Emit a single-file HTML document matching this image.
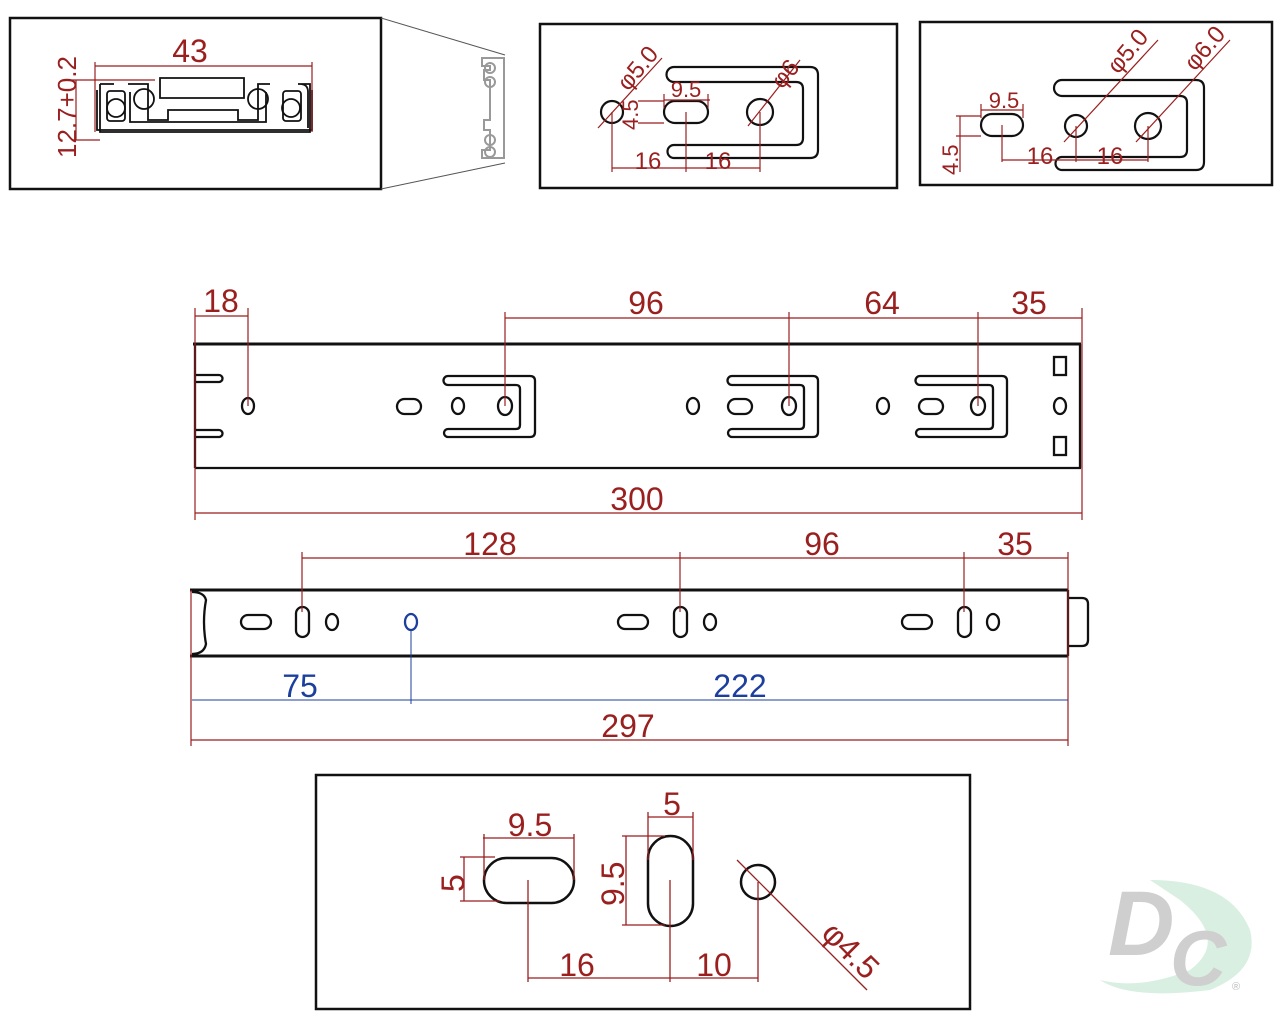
<!DOCTYPE html>
<html><head><meta charset="utf-8"><style>
html,body{margin:0;padding:0;background:#fff;}
svg{display:block;}
text{font-family:"Liberation Sans",sans-serif;fill:#9a1f1f;}
</style></head><body>
<svg width="1280" height="1024" viewBox="0 0 1280 1024" xmlns="http://www.w3.org/2000/svg">
<g fill="none" stroke="#111" stroke-width="2.5">
<rect x="10" y="18" width="371" height="171"/>
<rect x="540" y="24" width="357" height="164"/>
<rect x="920" y="22" width="352" height="163"/>
<rect x="316" y="775" width="654" height="234"/>
</g>
<!-- panel 1 -->
<g fill="none" stroke="#555" stroke-width="1">
<line x1="381" y1="18" x2="505" y2="55"/><line x1="381" y1="189" x2="505" y2="163"/>
</g>
<g fill="none" stroke="#999" stroke-width="2">
<path d="M482 58 h22 v100 h-22 v-8 h8 v-20 h-6 v-10 h6 v-40 h-6 v-10 h6 v-4 h-8 z"/>
<circle cx="490" cy="68" r="5"/><circle cx="490" cy="82" r="5"/><circle cx="490" cy="140" r="5"/><circle cx="490" cy="152" r="5"/>
</g>
<g fill="none" stroke="#111" stroke-width="1.8">
<path d="M100 84 h14 M100 84 v48 h210 v-48 h-12 M300 84 q8 0 8 8 v36"/>
<path d="M97 90 v40 h215 v-40"/>
<rect x="107" y="91" width="18" height="30" rx="3"/><rect x="283" y="91" width="18" height="30" rx="3"/>
<circle cx="116" cy="108" r="9"/><circle cx="291" cy="108" r="9"/>
<circle cx="144" cy="99" r="10"/><circle cx="258" cy="99" r="10"/>
<path d="M128 84 h20 v36 h20 v-10 h70 v10 h20 v-36 h12 M130 92 v30 h136 v-30"/>
<path d="M160 78 h84 v20 h-84 z"/>
</g>
<g stroke="#9a1f1f" stroke-width="1.2" fill="none">
<line x1="95" y1="66" x2="312" y2="66"/><line x1="95" y1="62" x2="95" y2="132"/><line x1="312" y1="62" x2="312" y2="132"/>
<line x1="72" y1="80" x2="155" y2="80"/><line x1="72" y1="140" x2="100" y2="140"/><line x1="76" y1="80" x2="76" y2="140"/>
</g>
<text x="190" y="62" font-size="32" text-anchor="middle">43</text>
<text transform="translate(76,158) rotate(-90)" font-size="26">12.7+0.2</text>
<!-- panel 2 -->
<g fill="none" stroke="#111" stroke-width="2.2">
<path d="M674 67 H810 q8 0 8 8 V150 q0 8 -8 8 H674 a6.5 6.5 0 0 1 0 -13 H796 q7 0 7 -7 V89 q0 -7 -7 -7 H674 a7.5 7.5 0 0 1 0 -15 z"/>
<circle cx="612" cy="112" r="11"/><rect x="664" y="101" width="44" height="22" rx="11"/><circle cx="760" cy="112" r="13"/>
</g>
<g stroke="#9a1f1f" stroke-width="1.2" fill="none">
<line x1="598" y1="128" x2="662" y2="58"/><line x1="748" y1="126" x2="800" y2="60"/>
<line x1="612" y1="112" x2="612" y2="172"/><line x1="686" y1="112" x2="686" y2="172"/><line x1="760" y1="112" x2="760" y2="172"/>
<line x1="612" y1="168" x2="760" y2="168"/>
<line x1="664" y1="100" x2="710" y2="100"/><line x1="664" y1="94" x2="664" y2="108"/><line x1="708" y1="94" x2="708" y2="108"/>
<line x1="638" y1="101" x2="664" y2="101"/><line x1="638" y1="123" x2="664" y2="123"/>
</g>
<text x="648" y="169" font-size="24" text-anchor="middle">16</text>
<text x="718" y="169" font-size="24" text-anchor="middle">16</text>
<text x="686" y="97" font-size="22" text-anchor="middle">9.5</text>
<text transform="translate(638,130) rotate(-90)" font-size="22">4.5</text>
<text transform="translate(628,92) rotate(-50)" font-size="24">φ5.0</text>
<text transform="translate(782,90) rotate(-50)" font-size="24">φ6</text>
<!-- panel 3 -->
<g fill="none" stroke="#111" stroke-width="2.2">
<path d="M1062 80 H1196 q8 0 8 8 V162 q0 8 -8 8 H1062 a6.5 6.5 0 0 1 0 -13 H1180 q7 0 7 -7 V103 q0 -7 -7 -7 H1062 a8 8 0 0 1 0 -16 z"/>
<rect x="981" y="114" width="42" height="22" rx="11"/><circle cx="1076" cy="126" r="11"/><circle cx="1148" cy="126" r="13"/>
</g>
<g stroke="#9a1f1f" stroke-width="1.2" fill="none">
<line x1="1064" y1="142" x2="1158" y2="40"/><line x1="1136" y1="142" x2="1230" y2="40"/>
<line x1="1002" y1="125" x2="1002" y2="162"/><line x1="1076" y1="126" x2="1076" y2="162"/><line x1="1148" y1="126" x2="1148" y2="162"/>
<line x1="1002" y1="160" x2="1148" y2="160"/>
<line x1="981" y1="110" x2="1023" y2="110"/><line x1="981" y1="104" x2="981" y2="118"/><line x1="1023" y1="104" x2="1023" y2="118"/>
<line x1="956" y1="116" x2="981" y2="116"/><line x1="956" y1="136" x2="981" y2="136"/><line x1="960" y1="116" x2="960" y2="172"/>
</g>
<text x="1004" y="108" font-size="22" text-anchor="middle">9.5</text>
<text x="1040" y="164" font-size="24" text-anchor="middle">16</text>
<text x="1110" y="164" font-size="24" text-anchor="middle">16</text>
<text transform="translate(958,175) rotate(-90)" font-size="22">4.5</text>
<text transform="translate(1118,75) rotate(-50)" font-size="24">φ5.0</text>
<text transform="translate(1195,72) rotate(-50)" font-size="24">φ6.0</text>
<!-- rail 1 -->
<g fill="none" stroke="#111" stroke-width="2.3">
<line x1="193" y1="344" x2="1081" y2="344" stroke-width="3"/>
<line x1="195" y1="468" x2="1081" y2="468"/>
<line x1="195" y1="344" x2="195" y2="468"/><line x1="1080" y1="344" x2="1080" y2="468"/>
<path d="M195 375 h24 a3.5 3.5 0 0 1 0 7 h-24 M195 430 h24 a3.5 3.5 0 0 1 0 7 h-24"/>
<ellipse cx="248" cy="406" rx="6" ry="8"/>
<rect x="397" y="399" width="24" height="15" rx="7.5"/><ellipse cx="458" cy="406" rx="6" ry="8"/><ellipse cx="505" cy="406" rx="7" ry="9"/>
<path d="M448 376 H530 q5 0 5 5 V432 q0 5 -5 5 H448 a4 4 0 0 1 0 -8 H516 q4 0 4 -4 V389 q0 -4 -4 -4 H448 a4.5 4.5 0 0 1 0 -9 z"/>
<ellipse cx="693" cy="406" rx="6" ry="8"/><rect x="728" y="399" width="24" height="15" rx="7.5"/><ellipse cx="789" cy="406" rx="7" ry="9"/>
<path d="M732 376 H813 q5 0 5 5 V432 q0 5 -5 5 H732 a4 4 0 0 1 0 -8 H800 q4 0 4 -4 V389 q0 -4 -4 -4 H732 a4.5 4.5 0 0 1 0 -9 z"/>
<ellipse cx="883" cy="406" rx="6" ry="8"/><rect x="919" y="399" width="24" height="15" rx="7.5"/><ellipse cx="978" cy="406" rx="7" ry="9"/>
<path d="M920 376 H1002 q5 0 5 5 V432 q0 5 -5 5 H920 a4 4 0 0 1 0 -8 H989 q4 0 4 -4 V389 q0 -4 -4 -4 H920 a4.5 4.5 0 0 1 0 -9 z"/>
<rect x="1054" y="357" width="12" height="18"/><ellipse cx="1060" cy="406" rx="6" ry="8"/><rect x="1054" y="437" width="12" height="18"/>
</g>
<g stroke="#9a1f1f" stroke-width="1.2" fill="none">
<line x1="195" y1="308" x2="195" y2="520"/><line x1="1082" y1="308" x2="1082" y2="520"/>
<line x1="248" y1="308" x2="248" y2="406"/><line x1="505" y1="312" x2="505" y2="406"/><line x1="789" y1="312" x2="789" y2="406"/><line x1="978" y1="312" x2="978" y2="406"/>
<line x1="195" y1="316" x2="248" y2="316"/><line x1="505" y1="318" x2="1082" y2="318"/>
<line x1="195" y1="513" x2="1082" y2="513"/>
</g>
<text x="221" y="312" font-size="32" text-anchor="middle">18</text>
<text x="646" y="314" font-size="32" text-anchor="middle">96</text>
<text x="882" y="314" font-size="32" text-anchor="middle">64</text>
<text x="1029" y="314" font-size="32" text-anchor="middle">35</text>
<text x="637" y="510" font-size="32" text-anchor="middle">300</text>
<!-- rail 2 -->
<g fill="none" stroke="#111" stroke-width="2.3">
<line x1="190" y1="590" x2="1068" y2="590" stroke-width="3"/>
<line x1="190" y1="656" x2="1068" y2="656" stroke-width="3"/>
<path d="M192 592 q12 0 14 8 q-4 22 0 44 q-2 10 -14 10"/>
<line x1="1068" y1="590" x2="1068" y2="656"/>
<path d="M1068 598 h14 q6 0 6 6 v36 q0 6 -6 6 h-14"/>
<rect x="241" y="615" width="30" height="14" rx="7"/><rect x="296" y="607" width="13" height="30" rx="6.5"/><ellipse cx="332" cy="622" rx="6" ry="8"/>
<rect x="618" y="615" width="30" height="14" rx="7"/><rect x="674" y="607" width="13" height="30" rx="6.5"/><ellipse cx="710" cy="622" rx="6" ry="8"/>
<rect x="902" y="615" width="30" height="14" rx="7"/><rect x="958" y="607" width="13" height="30" rx="6.5"/><ellipse cx="993" cy="622" rx="6" ry="8"/>
</g>
<ellipse cx="411" cy="622" rx="6" ry="8" fill="none" stroke="#1c3f9e" stroke-width="2.3"/>
<g stroke="#9a1f1f" stroke-width="1.2" fill="none">
<line x1="302" y1="558" x2="1068" y2="558"/>
<line x1="302" y1="552" x2="302" y2="612"/><line x1="680" y1="552" x2="680" y2="612"/><line x1="964" y1="552" x2="964" y2="612"/><line x1="1068" y1="552" x2="1068" y2="746"/>
<line x1="191" y1="590" x2="191" y2="746"/>
<line x1="191" y1="740" x2="1068" y2="740"/>
</g>
<g stroke="#1c3f9e" stroke-width="1" fill="none">
<line x1="192" y1="700" x2="1068" y2="700"/><line x1="411" y1="630" x2="411" y2="704"/>
</g>
<text x="490" y="555" font-size="32" text-anchor="middle">128</text>
<text x="822" y="555" font-size="32" text-anchor="middle">96</text>
<text x="1015" y="555" font-size="32" text-anchor="middle">35</text>
<text x="300" y="697" font-size="32" text-anchor="middle" style="fill:#1c3f9e">75</text>
<text x="740" y="697" font-size="32" text-anchor="middle" style="fill:#1c3f9e">222</text>
<text x="628" y="737" font-size="32" text-anchor="middle">297</text>
<!-- detail box -->
<g fill="none" stroke="#111" stroke-width="2.5">
<rect x="484" y="858" width="90" height="45" rx="22.5"/>
<rect x="648" y="836" width="45" height="90" rx="22.5"/>
<circle cx="758" cy="882" r="17"/>
</g>
<g stroke="#9a1f1f" stroke-width="1.3" fill="none">
<line x1="483" y1="838" x2="574" y2="838"/><line x1="484" y1="834" x2="484" y2="880"/><line x1="574" y1="834" x2="574" y2="880"/>
<line x1="460" y1="857" x2="495" y2="857"/><line x1="460" y1="901" x2="500" y2="901"/><line x1="464" y1="857" x2="464" y2="901"/>
<line x1="648" y1="817" x2="693" y2="817"/><line x1="648" y1="812" x2="648" y2="860"/><line x1="693" y1="812" x2="693" y2="860"/>
<line x1="622" y1="836" x2="665" y2="836"/><line x1="622" y1="925" x2="665" y2="925"/><line x1="626" y1="836" x2="626" y2="925"/>
<line x1="528" y1="880" x2="528" y2="982"/><line x1="670" y1="880" x2="670" y2="982"/><line x1="758" y1="882" x2="758" y2="982"/>
<line x1="528" y1="978" x2="758" y2="978"/>
<line x1="737" y1="860" x2="867" y2="990"/>
</g>
<text x="530" y="836" font-size="32" text-anchor="middle">9.5</text>
<text x="672" y="815" font-size="32" text-anchor="middle">5</text>
<text transform="translate(464,892) rotate(-90)" font-size="32">5</text>
<text transform="translate(624,906) rotate(-90)" font-size="32">9.5</text>
<text x="577" y="976" font-size="32" text-anchor="middle">16</text>
<text x="714" y="976" font-size="32" text-anchor="middle">10</text>
<text transform="translate(820,935) rotate(45)" font-size="32">φ4.5</text>
<!-- logo -->
<g>
<path d="M1150 880 q80 0 100 50 q10 40 -40 60 q-80 10 -110 -10 q40 10 90 -10 q40 -30 -10 -70 z" fill="#d9efe2"/>
<text x="1108" y="955" font-size="92" font-weight="bold" font-style="italic" style="fill:#cfcfcf">D</text>
<text x="1170" y="985" font-size="78" font-weight="bold" font-style="italic" style="fill:#cfcfcf">C</text>
<text x="1232" y="990" font-size="11" style="fill:#bbb">®</text>
</g>
</svg>
</body></html>
